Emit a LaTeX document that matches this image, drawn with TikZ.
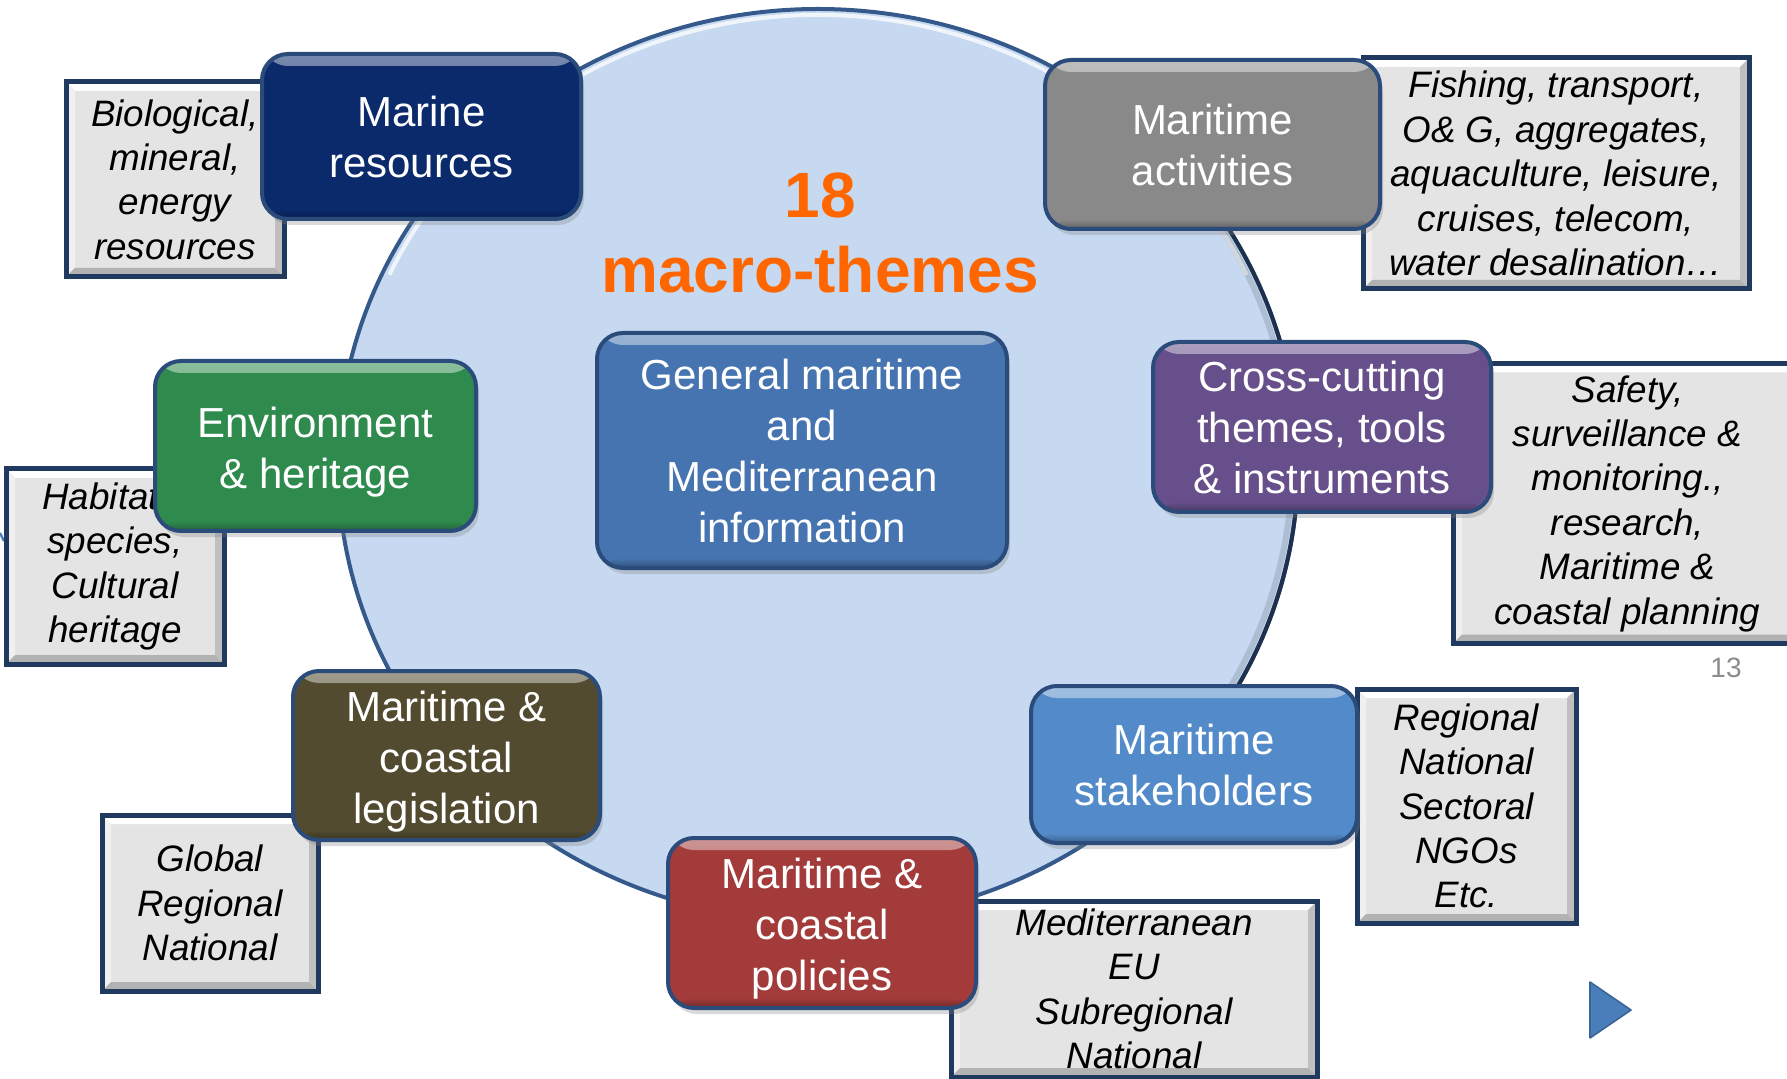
\documentclass[tikz,border=0pt]{standalone}
\usepackage{fontspec}
\setmainfont{Liberation Sans}
\usetikzlibrary{shadows}
\definecolor{circfill}{HTML}{C6D9F1}
\definecolor{circline}{HTML}{34598A}
\definecolor{bline}{HTML}{2B4C7A}
\definecolor{gline}{HTML}{20395F}
\definecolor{gfill}{HTML}{E4E4E4}
\definecolor{cMarine}{HTML}{0A2A6C}
\definecolor{cAct}{HTML}{898989}
\definecolor{cEnv}{HTML}{2F8B4D}
\definecolor{cCross}{HTML}{664F8A}
\definecolor{cGen}{HTML}{4674B0}
\definecolor{cLeg}{HTML}{524B2F}
\definecolor{cPol}{HTML}{A33B3B}
\definecolor{cStake}{HTML}{538BCA}
\definecolor{orng}{HTML}{FF6600}
\definecolor{pnum}{HTML}{8C8C8C}
\definecolor{tri}{HTML}{4A7EBB}
\newcommand{\lowerstrut}{\rule{0pt}{21pt}}
\begin{document}
\begin{tikzpicture}[x=0.5pt,y=-0.5pt,
  theme/.style={rectangle, rounded corners=13pt, draw=bline, line width=2pt,
    fill=#1, text=white, align=center, inner sep=0pt,
    font=\fontsize{21pt}{25.5pt}\selectfont,
    drop shadow={shadow xshift=1.5pt, shadow yshift=-3pt, opacity=.3},
    path picture={
      \shade[top color=#1!55!white, bottom color=#1]
        (path picture bounding box.north west) rectangle ([yshift=-6pt]path picture bounding box.north east);
      \shade[top color=#1, bottom color=#1!70!black]
        ([yshift=5pt]path picture bounding box.south west) rectangle (path picture bounding box.south east);
    }},
  detail/.style={rectangle, draw=gline, line width=2.5pt, fill=gfill,
    text=black, align=center, inner sep=0pt,
    font=\itshape\fontsize{18.4pt}{22.2pt}\selectfont,
    path picture={
      \fill[white] (path picture bounding box.north west) -- (path picture bounding box.north east)
        -- ([shift={(-4.5pt,-4.5pt)}]path picture bounding box.north east)
        -- ([shift={(4.5pt,-4.5pt)}]path picture bounding box.north west) -- cycle;
      \fill[gray!12] (path picture bounding box.north west)
        -- ([shift={(4.5pt,-4.5pt)}]path picture bounding box.north west)
        -- ([shift={(4.5pt,4.5pt)}]path picture bounding box.south west)
        -- (path picture bounding box.south west) -- cycle;
      \fill[gray!50] (path picture bounding box.north east) -- (path picture bounding box.south east)
        -- ([shift={(-4.5pt,4.5pt)}]path picture bounding box.south east)
        -- ([shift={(-4.5pt,-4.5pt)}]path picture bounding box.north east) -- cycle;
      \fill[gray!60] (path picture bounding box.south west) -- (path picture bounding box.south east)
        -- ([shift={(-4.5pt,4.5pt)}]path picture bounding box.south east)
        -- ([shift={(4.5pt,4.5pt)}]path picture bounding box.south west) -- cycle;
    }}
]
\useasboundingbox (0,0) rectangle (1787,1079);

% big circle
\path[fill=circfill, draw=circline, line width=2pt] (818,465) ellipse [x radius=240pt, y radius=228pt];
\draw[white, line width=2pt, opacity=.75] (389.3,274.8) arc[start angle=155, end angle=25, x radius=236.5pt, y radius=225pt];
\draw[black, line width=3pt, opacity=.12] (1228.5,690) arc[start angle=-30, end angle=40, x radius=237pt, y radius=225pt];
\draw[circline!55!black, line width=2pt] (1233.7,693) arc[start angle=-30, end angle=35, x radius=240pt, y radius=228pt];

% small fragment at left edge
\draw[tri, line width=1.2pt] (0,533) -- (4,541);

% detail boxes
\node[detail, minimum width=109pt, minimum height=97.5pt] (d1) at (175,179.5)
  {Biological,\\mineral,\\energy\\resources};
\node[detail, minimum width=193pt, minimum height=115.5pt] (d2) at (1556,173.5)
  {Fishing, transport,\\O\& G, aggregates,\\aquaculture, leisure,\\cruises, telecom,\\water desalination…};
\node[detail, minimum width=109pt, minimum height=97.5pt] (d3) at (115,566.5)
  {Habitats,\\species,\\Cultural\\heritage};
\node[detail, minimum width=174.5pt, minimum height=140pt] (d4) at (1627.5,503.5)
  {Safety,\\surveillance \&\\monitoring.,\\research,\\Maritime \&\\coastal planning};
\node[detail, minimum width=108pt, minimum height=88pt] (d6) at (210,903)
  {Global\\Regional\\National};
\node[detail, minimum width=183pt, minimum height=88pt] (d7) at (1134,989)
  {Mediterranean\\EU\\Subregional\\National};
\node[detail, minimum width=109.5pt, minimum height=117pt] (d8) at (1466.5,806)
  {Regional\\National\\Sectoral\\NGOs\\Etc.};

% theme boxes
\node[theme=cMarine, minimum width=159.5pt, minimum height=82.5pt] (marine) at (421.5,136.5)
  {Marine\\resources};
\node[theme=cAct, minimum width=167.5pt, minimum height=84.5pt] (act) at (1212.5,144.5)
  {Maritime\\activities};
\node[theme=cEnv, minimum width=160.5pt, minimum height=85pt] (env) at (315.5,446)
  {\lowerstrut Environment\\\& heritage};
\node[theme=cCross, minimum width=169pt, minimum height=85pt] (cross) at (1322,427)
  {Cross-cutting\\themes, tools\\\& instruments};
\node[theme=cGen, minimum width=205pt, minimum height=117.5pt] (gen) at (802,450.5)
  {General maritime\\and\\Mediterranean\\information};
\node[theme=cLeg, minimum width=153.5pt, minimum height=84.5pt] (leg) at (446.5,755.5)
  {\lowerstrut Maritime \&\\coastal\\legislation};
\node[theme=cPol, minimum width=154pt, minimum height=85pt] (pol) at (822,923)
  {\lowerstrut Maritime \&\\coastal\\policies};
\node[theme=cStake, minimum width=163pt, minimum height=78.5pt] (stake) at (1194,764.5)
  {Maritime\\stakeholders};

% title
\node[anchor=base, inner sep=0pt, text=orng, font=\bfseries\fontsize{32pt}{32pt}\selectfont] (n18) at (820,218) {18};
\node[anchor=base, inner sep=0pt, text=orng, font=\bfseries\fontsize{32pt}{32pt}\selectfont] (nmacro) at (820,293) {macro-themes};

% page number and play triangle
\node[inner sep=0pt, text=pnum, font=\fontsize{14pt}{14pt}\selectfont] (pg) at (1726,668) {13};
\path[fill=tri, draw=tri!80!black, line width=0.8pt, line join=round] (1590,982) -- (1631,1010) -- (1590,1038) -- cycle;
\end{tikzpicture}
\end{document}
